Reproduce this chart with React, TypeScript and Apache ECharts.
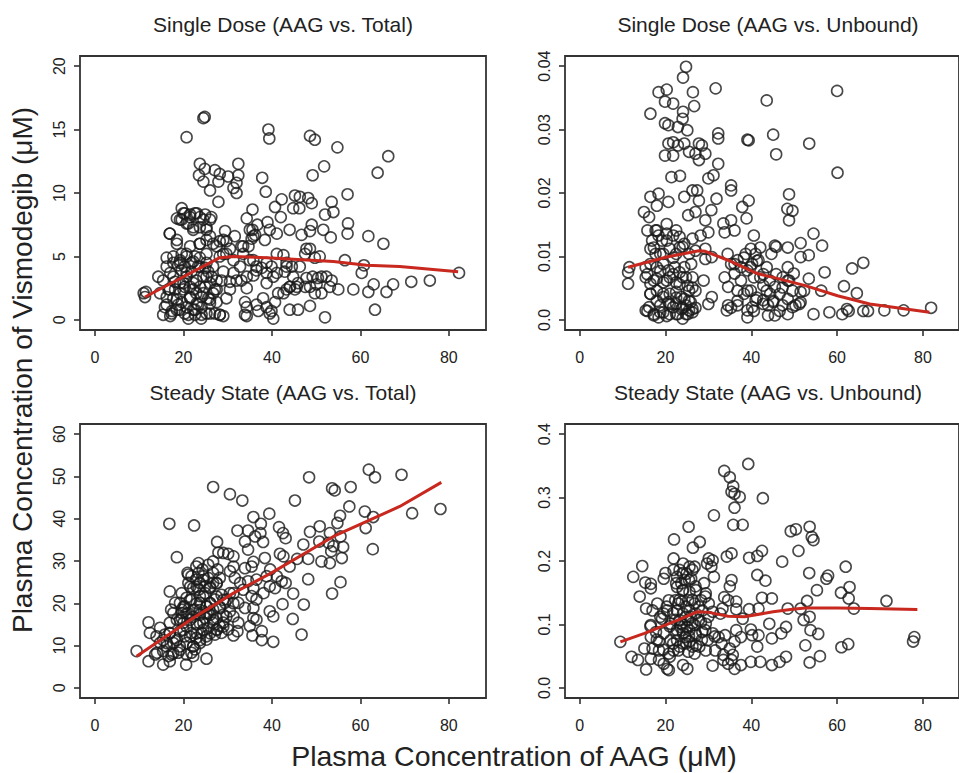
import React, { useEffect, useRef } from "react";
import * as echarts from "echarts";

// ---------- Data ----------
const xTicks = [0, 20, 40, 60, 80];
const yTicksSDTotal = [0, 5, 10, 15, 20];
const yTicksSDUnbound = [0, 0.01, 0.02, 0.03, 0.04];
const yTicksSSTotal = [0, 10, 20, 30, 40, 50, 60];
const yTicksSSUnbound = [0, 0.1, 0.2, 0.3, 0.4];

const panelTitles = [
  "Single Dose (AAG vs. Total)",
  "Single Dose (AAG vs. Unbound)",
  "Steady State (AAG vs. Total)",
  "Steady State (AAG vs. Unbound)",
];
const yAxisTitle = "Plasma Concentration of Vismodegib (\u03bcM)";
const xAxisTitle = "Plasma Concentration of AAG (\u03bcM)";

// Single dose, AAG vs total
const sdTotalPoints = [
  [24.5, 15.9], [24.8, 16.0], [20.7, 14.4], [39.2, 15.0], [39.4, 14.3], [48.6, 14.5], [49.7, 14.2],
  [54.8, 13.6], [66.3, 12.9], [63.9, 11.6], [51.8, 12.1], [49.2, 11.4], [32.4, 12.3], [32.4, 11.4],
  [32.0, 10.8], [31.3, 10.4], [32.0, 10.0], [23.7, 12.3], [23.5, 11.4], [24.8, 11.9], [24.5, 10.9],
  [26.0, 10.2], [27.1, 11.8], [28.2, 11.5], [27.9, 10.9], [30.1, 11.3], [27.9, 9.3], [37.8, 11.2],
  [38.6, 10.1], [57.1, 9.9], [61.8, 6.6], [65.2, 6.0], [57.2, 7.6], [57.1, 6.8], [53.5, 9.3],
  [53.9, 8.5], [52.0, 8.3], [53.3, 6.5], [51.6, 7.1], [45.2, 9.8], [46.3, 9.7], [48.2, 9.6],
  [49.0, 9.2], [44.8, 8.8], [46.2, 8.8], [42.2, 9.5], [40.7, 8.9], [42.0, 8.1], [44.0, 7.1],
  [49.0, 7.5], [48.6, 7.0], [46.7, 6.7], [47.8, 5.6], [41.1, 6.8], [39.5, 7.1], [39.0, 7.7],
  [38.4, 6.3], [35.6, 8.7], [34.3, 8.0], [35.6, 7.1], [35.4, 6.4], [34.7, 5.8], [36.7, 7.5],
  [36.2, 6.7], [19.6, 8.8], [20.3, 8.4], [21.5, 8.3], [22.6, 8.4], [23.7, 8.1], [24.9, 8.3],
  [26.0, 7.9], [19.6, 7.9], [21.1, 7.6], [22.2, 7.1], [23.7, 7.3], [25.2, 7.1], [26.3, 8.1],
  [18.5, 8.0], [16.9, 6.8], [18.5, 6.0], [19.6, 5.2], [21.5, 5.8], [23.7, 6.0], [25.2, 6.3],
  [26.7, 6.0], [28.2, 6.2], [29.4, 7.0], [29.7, 6.2], [31.6, 6.6], [30.5, 5.6], [29.0, 5.2],
  [16.2, 4.9], [17.7, 4.5], [19.2, 4.7], [20.7, 5.0], [22.2, 4.6], [23.7, 4.9], [25.2, 4.5],
  [26.7, 4.2], [28.2, 5.0], [29.7, 5.2], [31.3, 4.7], [14.3, 3.4], [15.4, 3.1], [14.7, 2.1],
  [11.0, 2.1], [11.3, 1.8], [11.5, 2.2], [17.0, 3.7], [18.1, 3.0], [16.6, 2.4], [17.7, 1.7],
  [16.2, 1.2], [15.4, 0.4], [17.0, 0.3], [18.5, 0.8], [19.6, 1.4], [19.2, 2.1], [20.3, 2.6],
  [20.7, 3.4], [21.8, 3.8], [22.9, 3.1], [22.2, 2.4], [21.5, 1.7], [20.7, 1.0], [21.1, 0.1],
  [22.6, 0.4], [23.3, 1.2], [24.1, 1.8], [24.9, 2.6], [24.5, 3.4], [25.6, 3.8], [26.0, 2.9],
  [26.7, 2.1], [26.0, 1.3], [25.2, 0.5], [24.0, 0.1], [27.1, 0.5], [28.2, 0.4], [29.0, 0.3],
  [27.1, 2.4], [27.5, 1.4], [19.6, 3.9], [18.8, 4.3], [20.3, 4.2], [21.8, 4.5], [23.3, 4.2],
  [24.9, 4.1], [26.4, 3.4], [27.5, 3.1], [16.2, 1.8], [18.1, 2.4], [20.0, 2.9], [21.5, 2.6],
  [22.9, 2.1], [18.8, 1.2], [20.3, 0.5], [22.2, 0.8], [24.1, 1.0], [25.6, 1.7], [17.4, 0.7],
  [23.7, 2.6], [30.5, 2.4], [29.7, 1.7], [32.0, 3.1], [33.1, 3.1], [34.3, 2.5], [33.9, 1.4],
  [34.3, 1.0], [34.3, 0.3], [33.9, 0.4], [36.5, 1.2], [38.0, 1.7], [36.9, 0.7], [38.8, 1.0],
  [39.5, 0.5], [40.3, 0.1], [39.9, 0.7], [40.7, 1.4], [41.4, 2.1], [42.6, 2.1], [43.3, 2.4],
  [44.0, 0.8], [45.9, 0.8], [48.6, 1.1], [52.0, 0.2], [35.8, 4.7], [36.5, 4.2], [37.7, 4.1],
  [35.8, 3.5], [38.8, 3.7], [39.9, 4.2], [40.3, 3.4], [41.1, 5.2], [42.6, 5.1], [43.3, 4.5],
  [44.5, 4.2], [42.9, 3.8], [44.8, 3.4], [44.0, 2.6], [45.2, 2.4], [45.9, 2.9], [46.3, 4.2],
  [47.5, 5.2], [48.6, 5.6], [49.7, 4.9], [50.8, 5.0], [47.8, 3.3], [49.2, 3.4], [50.4, 3.3],
  [51.2, 3.4], [52.3, 3.4], [47.5, 2.6], [48.6, 2.6], [50.1, 2.8], [51.2, 2.1], [49.7, 2.1],
  [53.1, 2.6], [55.0, 2.4], [53.5, 3.1], [58.4, 2.4], [60.3, 3.7], [60.8, 4.3], [56.5, 4.7],
  [61.8, 2.2], [63.0, 2.8], [65.9, 2.2], [67.4, 2.8], [71.5, 3.0], [75.7, 3.1], [82.3, 3.7],
  [63.3, 0.8], [33.1, 5.8], [33.5, 5.2], [35.0, 4.7], [31.3, 3.7], [30.5, 3.0], [28.6, 3.1],
  [29.0, 3.8],
  [16.2, 4.2], [17.7, 3.4], [19.2, 4.5], [20.7, 3.7], [22.2, 2.9], [23.7, 4.2], [25.2, 3.4],
  [16.9, 2.4], [18.5, 1.6], [20.0, 2.4], [21.5, 1.8], [23.0, 1.3], [24.5, 2.1], [26.0, 1.6],
  [27.5, 2.4], [15.8, 1.0], [17.3, 0.5], [19.2, 0.8], [21.1, 0.4], [22.6, 0.8], [24.1, 0.4],
  [26.0, 0.5], [28.2, 0.4], [19.2, 2.9], [17.7, 5.0], [20.7, 5.2], [22.6, 5.0], [25.2, 5.2],
  [27.5, 5.8], [29.0, 6.3], [18.5, 6.3], [16.9, 6.8], [23.7, 6.0], [26.0, 6.6], [20.0, 8.4],
  [21.5, 8.1], [23.0, 8.4], [24.5, 7.9], [20.7, 7.6], [22.2, 7.3], [19.2, 7.9], [25.2, 7.3],
  [32.8, 4.2], [34.3, 3.4], [36.5, 3.9], [38.8, 4.5], [41.1, 3.7], [43.3, 4.2], [45.6, 2.6],
  [44.1, 2.6], [38.8, 2.9], [35.0, 7.1], [35.8, 6.6], [33.5, 5.8],
];
const sdTotalLoess = [
  [11.3, 1.8], [20.0, 3.4], [28.2, 4.9], [31.3, 5.0], [38.8, 4.9], [53.9, 4.6], [61.4, 4.3],
  [68.9, 4.2], [82.1, 3.8],
];

// Single dose, AAG vs unbound
const sdUnboundPoints = [
  [24.8, 0.0399], [24.1, 0.0382], [26.4, 0.0359], [18.4, 0.0359], [20.3, 0.0363], [31.7, 0.0365],
  [43.6, 0.0346], [60.0, 0.0361], [60.1, 0.0232], [16.5, 0.0325], [19.9, 0.0344], [21.8, 0.0341],
  [24.1, 0.0328], [26.7, 0.0337], [19.9, 0.031], [20.7, 0.0307], [22.9, 0.0304], [24.0, 0.0317],
  [25.1, 0.0299], [32.3, 0.0294], [32.3, 0.0286], [39.1, 0.0284], [39.4, 0.0283], [45.1, 0.0292],
  [45.8, 0.0261], [53.5, 0.0278], [20.7, 0.0278], [21.8, 0.028], [22.9, 0.0275], [24.4, 0.0278],
  [27.8, 0.0278], [28.5, 0.0275], [19.9, 0.0259], [21.8, 0.0259], [25.5, 0.0265], [27.0, 0.0262],
  [27.8, 0.0252], [29.3, 0.0262], [32.3, 0.0246], [21.4, 0.0225], [23.4, 0.0227], [30.0, 0.0223],
  [31.2, 0.0228], [35.3, 0.0212], [35.3, 0.0204], [48.8, 0.0198], [48.4, 0.0175], [49.6, 0.0172],
  [48.8, 0.0157], [15.0, 0.017], [16.5, 0.0194], [18.4, 0.0199], [18.0, 0.018], [16.2, 0.0162],
  [20.7, 0.0186], [24.4, 0.0194], [26.3, 0.0204], [27.4, 0.0204], [27.8, 0.0188], [31.9, 0.0191],
  [39.4, 0.0188], [37.9, 0.0178], [38.9, 0.016], [30.7, 0.0173], [25.3, 0.0165], [27.0, 0.017],
  [29.3, 0.0157], [30.0, 0.0138], [28.2, 0.0133], [33.5, 0.0152], [35.3, 0.0157], [36.1, 0.0141],
  [33.8, 0.0138], [40.6, 0.0133], [54.5, 0.0136], [56.5, 0.0117], [51.5, 0.0121], [48.5, 0.0114],
  [45.8, 0.0115], [42.1, 0.0114], [66.1, 0.009], [63.5, 0.0081], [57.1, 0.0075], [56.3, 0.0046],
  [61.6, 0.0053], [64.6, 0.0042], [54.5, 0.0009], [58.2, 0.0012], [61.2, 0.0009], [62.7, 0.0014],
  [66.1, 0.0014], [67.2, 0.0014], [71.0, 0.0015], [75.5, 0.0015], [81.9, 0.0019], [62.3, 0.0017],
  [51.5, 0.0099], [53.4, 0.0102], [53.4, 0.0065], [52.3, 0.0046], [51.5, 0.0028], [50.3, 0.0023],
  [11.6, 0.0083], [11.3, 0.0075], [11.3, 0.0057], [15.8, 0.0141], [16.9, 0.0125], [17.7, 0.0141],
  [18.4, 0.0133], [19.2, 0.0125], [20.3, 0.0136], [21.8, 0.0133], [23.3, 0.0131], [24.4, 0.012],
  [26.3, 0.0128], [16.5, 0.0112], [17.7, 0.0104], [19.5, 0.0104], [21.0, 0.0112], [22.5, 0.0104],
  [24.0, 0.0115], [25.5, 0.0104], [27.0, 0.0109], [29.3, 0.0112], [29.3, 0.0096], [30.8, 0.0099],
  [15.4, 0.0083], [16.5, 0.0088], [18.0, 0.0083], [19.5, 0.0088], [20.7, 0.0078], [22.2, 0.0083],
  [23.3, 0.0075], [24.4, 0.0083], [26.0, 0.0088], [26.3, 0.0067], [28.9, 0.0062], [15.4, 0.0067],
  [16.5, 0.0057], [18.0, 0.0065], [19.5, 0.0059], [21.0, 0.0067], [22.5, 0.0059], [24.0, 0.0067],
  [25.2, 0.0054], [16.5, 0.0041], [18.0, 0.0046], [19.5, 0.0036], [21.0, 0.0041], [22.5, 0.0044],
  [23.7, 0.0036], [25.5, 0.0046], [27.0, 0.0046], [15.4, 0.0015], [16.2, 0.002], [17.3, 0.0007],
  [18.4, 0.0004], [18.8, 0.0023], [19.5, 0.0012], [20.7, 0.0028], [21.0, 0.0009], [21.8, 0.002],
  [22.5, 0.0025], [22.9, 0.0009], [23.7, 0.0017], [24.0, 0.0002], [24.8, 0.0023], [25.2, 0.0009],
  [25.9, 0.0028], [26.3, 0.0017], [25.5, 0.0015], [30.0, 0.0025], [30.8, 0.0036], [24.4, 0.0033],
  [33.8, 0.0067], [35.3, 0.0088], [36.8, 0.0094], [36.1, 0.0073], [37.6, 0.0083], [38.7, 0.0104],
  [39.9, 0.0112], [41.0, 0.0104], [41.7, 0.0094], [40.2, 0.0088], [39.1, 0.0078], [40.6, 0.0067],
  [42.1, 0.0067], [42.8, 0.0054], [43.6, 0.0083], [44.7, 0.0104], [45.5, 0.0117], [34.6, 0.0052],
  [36.8, 0.0046], [38.3, 0.0041], [39.9, 0.0046], [41.0, 0.0031], [39.1, 0.0015], [40.2, 0.002],
  [39.1, 0.0004], [34.6, 0.0023], [34.3, 0.0015], [36.8, 0.0023], [42.8, 0.0031], [43.9, 0.0023],
  [43.9, 0.0007], [45.5, 0.0007], [45.1, 0.0028], [46.6, 0.0041], [47.3, 0.0023], [48.5, 0.0009],
  [49.6, 0.002], [48.5, 0.0033], [49.6, 0.0046], [48.5, 0.0062], [48.5, 0.0083], [47.3, 0.0067],
  [49.9, 0.0073], [51.5, 0.0044], [51.2, 0.0025], [45.5, 0.0052], [44.4, 0.0041],
  [15.8, 0.0072], [17.3, 0.0062], [18.8, 0.0077], [20.3, 0.0062], [21.8, 0.0072], [23.3, 0.0056],
  [24.8, 0.0067], [26.3, 0.0051], [16.5, 0.0041], [18.0, 0.003], [19.5, 0.0041], [21.0, 0.0025],
  [22.5, 0.0035], [24.0, 0.0019], [25.5, 0.003], [27.0, 0.0019], [15.8, 0.0014], [17.3, 0.0009],
  [18.8, 0.0012], [20.3, 0.0006], [22.5, 0.0009], [24.8, 0.0009], [26.3, 0.0012], [17.3, 0.0114],
  [18.8, 0.0104], [20.3, 0.0125], [21.8, 0.0098], [23.3, 0.0114], [22.5, 0.0141], [20.3, 0.0151],
  [18.0, 0.0141], [34.5, 0.0104], [36.1, 0.0088], [38.3, 0.0098], [39.8, 0.0083], [41.3, 0.0093],
  [42.8, 0.0072], [44.3, 0.0062], [45.8, 0.0072], [47.3, 0.0051], [48.8, 0.0062], [37.6, 0.0062],
  [39.1, 0.0046], [41.3, 0.0035], [42.8, 0.0025], [45.1, 0.003], [46.6, 0.0014], [35.3, 0.0019],
  [36.8, 0.003], [40.6, 0.0014], [43.6, 0.0046],
];
const sdUnboundLoess = [
  [11.3, 0.0083], [20.3, 0.0099], [27.8, 0.0109], [29.3, 0.0108], [34.6, 0.0094], [41.4, 0.0073],
  [45.1, 0.0067], [52.6, 0.0054], [60.1, 0.0038], [67.6, 0.0025], [81.5, 0.0012],
];

// Steady state, AAG vs total
const ssTotalPoints = [
  [26.7, 47.5], [30.5, 45.8], [33.3, 44.3], [45.2, 44.3], [48.4, 49.8], [53.6, 47.2], [54.2, 46.7],
  [57.8, 47.5], [61.9, 51.6], [63.3, 49.8], [69.3, 50.4], [71.7, 41.3], [78.1, 42.3], [62.9, 40.4],
  [61.0, 41.7], [57.5, 42.9], [55.4, 40.7], [54.8, 39.0], [61.2, 37.8], [62.8, 32.8], [55.5, 35.8],
  [53.1, 36.6], [50.8, 38.2], [48.6, 36.9], [50.7, 34.6], [52.8, 34.3], [53.9, 33.5], [56.1, 33.3],
  [55.8, 30.7], [53.1, 29.5], [51.2, 29.9], [53.4, 32.3], [48.2, 30.5], [45.7, 30.5], [47.1, 33.9],
  [55.5, 25.0], [53.6, 22.3], [48.2, 25.7], [44.8, 22.3], [47.2, 19.7], [44.7, 16.3], [46.7, 12.6],
  [40.3, 10.9], [37.7, 11.3], [35.6, 12.4], [31.3, 12.4], [32.2, 13.4], [37.7, 13.4], [16.8, 38.8],
  [22.4, 38.4], [18.5, 30.9], [27.6, 34.5], [27.9, 32.0], [35.8, 40.4], [39.4, 41.2], [37.5, 38.8],
  [41.6, 38.0], [42.5, 36.6], [43.1, 35.4], [32.2, 37.2], [34.6, 37.2], [37.4, 36.6], [36.2, 35.8],
  [33.9, 34.6], [38.0, 34.5], [34.6, 32.7], [30.1, 31.7], [31.3, 31.1], [29.0, 31.9], [41.8, 31.7],
  [42.6, 31.1], [44.0, 28.7], [39.6, 28.0], [38.4, 30.7], [35.8, 29.8], [35.4, 28.7], [33.9, 28.3],
  [31.3, 28.7], [30.5, 27.6], [27.7, 28.0], [25.6, 29.1], [23.4, 27.2], [21.1, 26.8], [23.7, 24.8],
  [25.6, 26.0], [27.5, 24.8], [31.6, 26.0], [32.8, 24.8], [34.6, 25.2], [36.5, 25.6], [38.8, 26.4],
  [41.1, 26.4], [42.2, 25.2], [40.7, 23.6], [43.1, 24.8], [39.5, 24.0], [35.8, 23.6], [38.1, 22.4],
  [36.5, 20.9], [35.4, 21.7], [33.5, 23.2], [31.3, 22.4], [29.8, 20.9], [32.4, 20.1], [33.9, 18.9],
  [35.8, 18.9], [39.5, 18.1], [42.4, 19.8], [40.3, 16.9], [31.3, 16.9], [35.8, 16.5], [36.5, 16.1],
  [35.0, 14.6], [30.1, 13.8], [27.5, 13.8], [29.0, 15.4], [32.4, 15.4], [16.9, 22.8], [19.6, 22.4],
  [21.1, 24.8], [21.8, 26.4], [22.9, 25.6], [24.5, 26.4], [26.7, 27.2], [28.2, 26.0], [22.2, 23.6],
  [20.7, 21.3], [23.4, 23.2], [24.9, 22.4], [26.0, 23.6], [27.1, 20.9], [28.6, 22.0], [29.4, 20.1],
  [19.2, 20.1], [20.3, 19.3], [21.8, 20.9], [23.7, 20.1], [25.2, 19.3], [26.7, 18.5], [28.2, 18.9],
  [17.7, 17.7], [19.6, 18.5], [21.1, 17.7], [22.6, 18.5], [23.7, 17.3], [24.9, 16.5], [26.0, 17.3],
  [27.5, 16.5], [29.0, 17.3], [30.5, 18.1], [16.9, 15.4], [18.5, 16.1], [20.0, 15.4], [21.5, 16.1],
  [23.0, 15.0], [24.5, 15.4], [25.6, 14.2], [26.7, 15.4], [28.2, 14.6], [12.1, 15.5], [12.4, 13.0],
  [14.7, 14.2], [15.8, 12.6], [16.9, 13.0], [18.1, 11.8], [19.2, 13.4], [20.3, 12.2], [21.8, 13.0],
  [22.9, 11.8], [24.1, 13.0], [25.2, 12.2], [23.7, 10.6], [22.2, 9.8], [20.7, 10.6], [19.2, 9.8],
  [17.7, 10.6], [16.2, 9.8], [14.7, 10.6], [13.9, 12.2], [15.4, 8.7], [17.3, 7.9], [16.6, 7.5],
  [18.8, 8.3], [20.7, 7.9], [21.8, 8.3], [22.6, 9.1], [25.2, 11.4], [9.4, 8.7], [12.1, 6.3],
  [13.6, 7.9], [14.0, 8.3], [15.4, 5.5], [20.6, 5.5], [25.2, 6.9], [16.9, 6.3], [22.2, 7.5],
  [17.2, 18.5], [19.6, 16.5], [27.1, 12.6], [28.6, 13.0], [26.0, 20.1], [20.9, 27.2], [22.9, 28.7],
  [24.3, 28.0], [23.4, 29.5], [26.7, 29.9], [24.9, 24.0], [19.6, 17.7], [18.1, 20.1], [23.7, 21.7],
  [26.7, 24.8], [25.6, 17.7],
  [19.2, 16.1], [20.7, 14.5], [22.2, 16.8], [23.7, 15.3], [25.2, 17.6], [26.7, 16.1], [28.2, 19.2],
  [21.5, 12.1], [23.0, 12.9], [24.5, 13.7], [26.0, 12.9], [20.0, 19.2], [21.5, 20.8], [23.0, 20.0],
  [24.5, 21.6], [26.0, 20.0], [27.5, 21.6], [29.0, 20.8], [23.0, 23.9], [24.5, 25.5], [26.0, 23.9],
  [27.5, 24.7], [21.5, 23.9], [18.5, 11.3], [16.9, 12.9], [16.2, 10.6], [19.2, 9.0], [17.7, 8.2],
  [15.4, 11.3], [30.5, 22.4], [31.3, 20.0], [29.7, 16.8], [27.5, 13.7], [29.0, 14.5], [20.7, 17.6],
  [22.2, 18.4], [23.7, 18.4], [25.2, 19.2], [22.2, 9.8], [23.7, 11.3], [20.0, 13.7],
];
const ssTotalLoess = [
  [9.4, 7.5], [22.2, 16.5], [31.3, 22.4], [39.9, 27.2], [53.9, 35.8], [68.9, 42.9], [78.3, 48.6],
];

// Steady state, AAG vs unbound
const ssUnboundPoints = [
  [39.3, 0.353], [33.7, 0.342], [35.0, 0.332], [35.8, 0.318], [35.4, 0.309], [36.1, 0.306],
  [37.3, 0.301], [42.7, 0.299], [36.1, 0.284], [31.3, 0.272], [35.8, 0.257], [38.0, 0.257],
  [25.4, 0.254], [53.6, 0.254], [49.2, 0.247], [50.4, 0.25], [54.1, 0.238], [54.5, 0.233],
  [22.0, 0.234], [28.0, 0.23], [26.4, 0.221], [51.0, 0.216], [42.5, 0.216], [41.4, 0.208],
  [39.5, 0.205], [35.4, 0.212], [34.3, 0.207], [47.2, 0.199], [62.0, 0.191], [53.5, 0.181],
  [57.5, 0.172], [57.9, 0.177], [55.3, 0.154], [60.9, 0.15], [62.9, 0.159], [62.7, 0.141],
  [63.9, 0.125], [71.5, 0.137], [78.0, 0.08], [77.7, 0.073], [61.0, 0.064], [62.6, 0.069],
  [56.0, 0.05], [53.6, 0.04], [55.6, 0.085], [53.8, 0.091], [53.6, 0.112], [52.2, 0.107],
  [53.0, 0.137], [51.5, 0.125], [52.6, 0.067], [48.1, 0.049], [46.6, 0.041], [44.8, 0.036],
  [42.1, 0.041], [39.9, 0.041], [37.6, 0.036], [36.1, 0.03], [34.6, 0.038], [31.0, 0.035],
  [25.1, 0.03], [24.1, 0.036], [20.8, 0.028], [15.5, 0.029], [12.1, 0.049], [13.6, 0.044],
  [15.1, 0.062], [12.5, 0.175], [14.6, 0.192], [15.3, 0.166], [16.6, 0.164], [16.6, 0.157],
  [14.0, 0.144], [15.5, 0.125], [20.0, 0.181], [21.9, 0.204], [19.6, 0.172], [41.4, 0.178],
  [43.3, 0.169], [42.5, 0.142], [44.8, 0.141], [39.5, 0.124], [41.7, 0.125], [48.5, 0.125],
  [44.2, 0.101], [39.9, 0.092], [40.2, 0.083], [41.7, 0.083], [41.4, 0.065], [44.8, 0.078],
  [47.0, 0.086], [48.1, 0.096], [35.4, 0.17], [35.0, 0.16], [33.7, 0.143], [34.6, 0.138],
  [36.5, 0.136], [36.5, 0.124], [33.3, 0.125], [32.8, 0.117], [38.0, 0.109], [36.5, 0.091],
  [37.6, 0.08], [36.1, 0.073], [35.0, 0.062], [35.7, 0.052], [35.4, 0.044], [33.9, 0.083],
  [32.4, 0.08], [33.1, 0.07], [31.6, 0.059], [33.5, 0.052], [33.5, 0.044], [30.1, 0.204],
  [31.0, 0.201], [29.7, 0.196], [30.7, 0.191], [31.3, 0.175], [29.0, 0.165], [29.4, 0.149],
  [30.1, 0.133], [31.0, 0.12], [29.4, 0.101], [31.0, 0.086], [29.8, 0.075], [29.4, 0.059],
  [27.9, 0.065], [26.8, 0.054], [18.1, 0.133], [17.0, 0.122], [16.6, 0.099], [17.8, 0.088],
  [16.6, 0.08], [17.0, 0.062], [16.6, 0.046], [18.5, 0.059], [18.5, 0.044], [19.6, 0.038],
  [20.4, 0.03], [18.5, 0.073], [19.6, 0.086], [19.2, 0.109], [20.4, 0.122], [20.8, 0.138],
  [19.6, 0.117], [21.2, 0.101], [21.2, 0.075], [21.9, 0.059], [20.8, 0.054], [21.9, 0.186],
  [22.7, 0.175], [24.1, 0.196], [25.6, 0.191], [26.8, 0.191], [23.3, 0.186], [24.5, 0.17],
  [26.0, 0.172], [22.7, 0.159], [24.1, 0.154], [25.6, 0.151], [27.1, 0.154], [22.3, 0.138],
  [23.8, 0.136], [25.3, 0.138], [26.8, 0.133], [28.3, 0.138], [22.7, 0.122], [24.1, 0.117],
  [25.6, 0.122], [27.1, 0.117], [28.6, 0.122], [22.3, 0.107], [23.8, 0.101], [25.3, 0.107],
  [26.8, 0.099], [28.3, 0.104], [22.7, 0.091], [24.1, 0.086], [25.6, 0.091], [27.1, 0.083],
  [28.6, 0.088], [22.7, 0.075], [24.1, 0.07], [25.6, 0.073], [27.1, 0.067], [23.0, 0.059],
  [25.3, 0.057], [23.5, 0.096], [25.0, 0.096], [24.6, 0.08], [23.0, 0.133], [25.9, 0.112],
  [24.9, 0.18], [23.7, 0.165], [9.5, 0.0725],
  [22.5, 0.165], [24.0, 0.154], [25.5, 0.17], [27.0, 0.16], [23.3, 0.139], [24.8, 0.128],
  [26.3, 0.139], [27.8, 0.128], [21.8, 0.118], [23.3, 0.107], [24.8, 0.112], [26.3, 0.102],
  [27.8, 0.107], [21.0, 0.097], [22.5, 0.086], [24.0, 0.091], [25.5, 0.081], [27.0, 0.086],
  [28.5, 0.076], [21.8, 0.07], [23.3, 0.065], [24.8, 0.07], [26.3, 0.065], [18.0, 0.076],
  [16.5, 0.097], [18.8, 0.112], [20.3, 0.128], [19.5, 0.06], [21.0, 0.049], [24.0, 0.181],
  [26.3, 0.186], [29.3, 0.144], [30.0, 0.112], [29.3, 0.091], [31.5, 0.081],
];
const ssUnboundLoess = [
  [9.5, 0.0725], [15.1, 0.086], [22.6, 0.106], [27.5, 0.12], [30.1, 0.119], [34.6, 0.113],
  [38.4, 0.112], [45.1, 0.12], [49.6, 0.124], [52.6, 0.126], [60.1, 0.126], [67.6, 0.125],
  [78.7, 0.1235],
];

// ---------- Chart ----------
const FONT = "'Liberation Sans', Arial, Helvetica, sans-serif";
const INK = "#222";

export default function App() {
  const ref = useRef<HTMLDivElement>(null);

  useEffect(() => {
    if (!ref.current) return;
    const chart = echarts.init(ref.current, null, { renderer: "svg" });

    const panels = [
      { grid: { left: 80, top: 56, width: 406, height: 274 }, ymin: -0.8, ymax: 20.8, yt: yTicksSDTotal, pts: sdTotalPoints, fit: sdTotalLoess, fmt: (v: number) => String(v) },
      { grid: { left: 565, top: 56, width: 407, height: 274 }, ymin: -0.0016, ymax: 0.0416, yt: yTicksSDUnbound, pts: sdUnboundPoints, fit: sdUnboundLoess, fmt: (v: number) => (v === 0 ? "0.0" : String(v)) },
      { grid: { left: 80, top: 424, width: 406, height: 274 }, ymin: -2.4, ymax: 62.4, yt: yTicksSSTotal, pts: ssTotalPoints, fit: ssTotalLoess, fmt: (v: number) => String(v) },
      { grid: { left: 565, top: 424, width: 407, height: 274 }, ymin: -0.016, ymax: 0.416, yt: yTicksSSUnbound, pts: ssUnboundPoints, fit: ssUnboundLoess, fmt: (v: number) => (v === 0 ? "0.0" : String(v)) },
    ];

    const option: any = {
      animation: false,
      backgroundColor: "#fff",
      grid: panels.map((p) => ({ ...p.grid, show: true, borderColor: "#333", borderWidth: 1.8, backgroundColor: "transparent", containLabel: false })),
      xAxis: panels.map((p, i) => ({
        type: "value",
        gridIndex: i,
        min: -3.4,
        max: 88.4,
        splitLine: { show: false },
        axisLine: { show: false, onZero: false },
        axisTick: { show: true, length: 6, customValues: xTicks, lineStyle: { color: "#333", width: 1.6 } },
        axisLabel: { show: true, customValues: xTicks, margin: 19, fontSize: 16, fontFamily: FONT, color: INK },
      })),
      yAxis: panels.map((p, i) => ({
        type: "value",
        gridIndex: i,
        min: p.ymin,
        max: p.ymax,
        splitLine: { show: false },
        axisLine: { show: false, onZero: false },
        axisTick: { show: true, length: 6, customValues: p.yt, lineStyle: { color: "#333", width: 1.6 } },
        axisLabel: { show: true, customValues: p.yt, rotate: 90, margin: 13, fontSize: 16, fontFamily: FONT, color: INK, formatter: p.fmt },
      })),
      series: panels.flatMap((p, i) => [
        {
          type: "scatter",
          xAxisIndex: i,
          yAxisIndex: i,
          data: p.pts,
          symbol: "circle",
          symbolSize: 11,
          itemStyle: { color: "rgba(0,0,0,0)", borderColor: "#1a1a1a", borderWidth: 1.6 },
          emphasis: { disabled: true },
        },
        {
          type: "line",
          xAxisIndex: i,
          yAxisIndex: i,
          data: p.fit,
          showSymbol: false,
          symbol: "none",
          lineStyle: { color: "#c8281e", width: 3 },
          z: 5,
        },
      ]),
      graphic: [
        ...[
          [283, 24, panelTitles[0]],
          [768, 24, panelTitles[1]],
          [283, 392, panelTitles[2]],
          [768, 392, panelTitles[3]],
        ].map(([x, y, t]) => ({
          type: "text",
          x: x as number,
          y: y as number,
          style: { text: t as string, font: `21px ${FONT}`, fill: INK, textAlign: "center", textVerticalAlign: "middle" },
        })),
        {
          type: "text",
          x: 22,
          y: 370,
          rotation: Math.PI / 2,
          style: { text: yAxisTitle, font: `28px ${FONT}`, fill: INK, textAlign: "center", textVerticalAlign: "middle" },
        },
        {
          type: "text",
          x: 514,
          y: 756,
          style: { text: xAxisTitle, font: `28.5px ${FONT}`, fill: INK, textAlign: "center", textVerticalAlign: "middle" },
        },
      ],
    };

    chart.setOption(option);
    return () => chart.dispose();
  }, []);

  return (
    <div
      ref={ref}
      style={{ position: "absolute", left: 0, top: 0, width: 959, height: 773, background: "#fff" }}
    />
  );
}
